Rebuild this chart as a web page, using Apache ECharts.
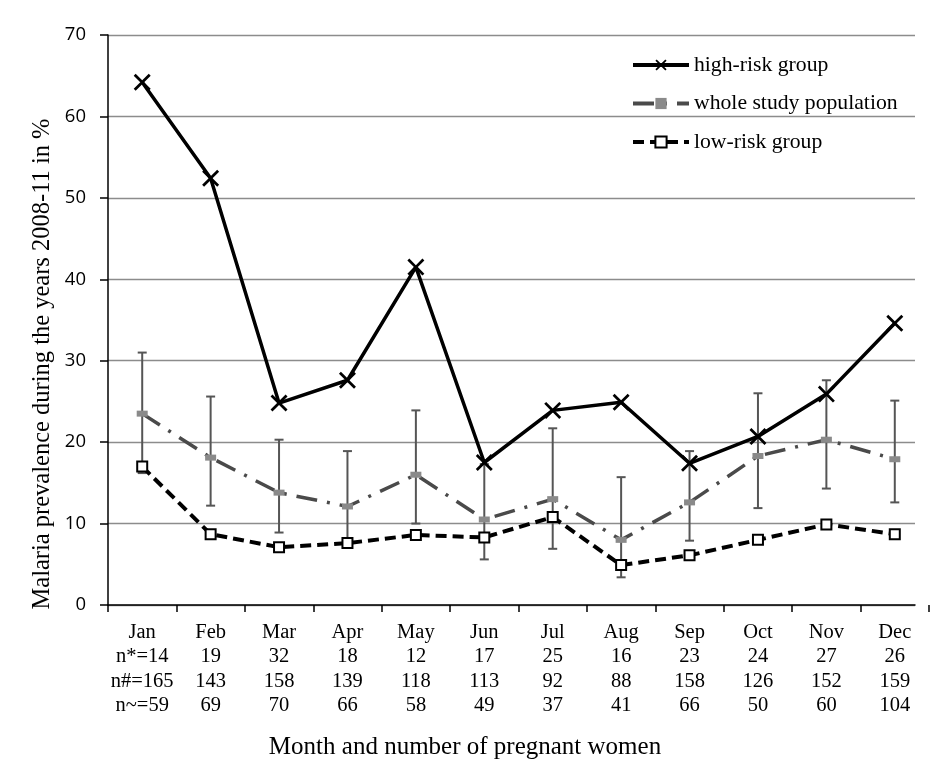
<!DOCTYPE html>
<html>
<head>
<meta charset="utf-8">
<script src="https://cdn.jsdelivr.net/npm/echarts@6/dist/echarts.min.js"></script>
<style>html,body{margin:0;padding:0;background:#fff;}#c{width:930px;height:777px;}</style>
</head>
<body>
<div id="c"></div>
<script>
var months = ['Jan','Feb','Mar','Apr','May','Jun','Jul','Aug','Sep','Oct','Nov','Dec'];
var nHigh  = [14,19,32,18,12,17,25,16,23,24,27,26];
var nWhole = [165,143,158,139,118,113,92,88,158,126,152,159];
var nLow   = [59,69,70,66,58,49,37,41,66,50,60,104];
var highRisk  = [64.2,52.4,24.8,27.6,41.5,17.5,23.9,24.9,17.4,20.7,25.9,34.6];
var whole     = [23.5,18.1,13.8,12.1,16.0,10.5,13.0,8.0,12.6,18.3,20.3,17.9];
var wholeLow  = [16.2,12.2,8.9,7.8,10.0,5.6,6.9,3.4,7.9,11.9,14.3,12.6];
var wholeHigh = [31.0,25.6,20.3,18.9,23.9,17.3,21.7,15.7,18.9,26.0,27.6,25.1];
var lowRisk   = [17.0,8.7,7.1,7.6,8.6,8.3,10.8,4.9,6.1,8.0,9.9,8.7];
var yTicks = {min:0, max:70, interval:10};

var categories = months.map(function(m,i){
  return m + '\n' + (i===0?'n*=':'') + nHigh[i] + '\n' + (i===0?'n#=':'') + nWhole[i] + '\n' + (i===0?'n~=':'') + nLow[i];
});
var errData = months.map(function(m,i){ return [i, wholeLow[i], wholeHigh[i]]; });

var serif = '"Liberation Serif","Times New Roman",serif';
var X_PATH = 'path://M0,1.6 L1.6,0 L7,5.4 L12.4,0 L14,1.6 L8.6,7 L14,12.4 L12.4,14 L7,8.6 L1.6,14 L0,12.4 L5.4,7 Z';

var chart = echarts.init(document.getElementById('c'), null, {renderer:'canvas'});
chart.setOption({
  animation:false,
  backgroundColor:'#fff',
  title:{
    text:'Month and number of pregnant women',
    left:'center', top:730,
    textStyle:{fontFamily:serif, fontSize:25, fontWeight:'normal', color:'#000'}
  },
  graphic:[{
    type:'text', x:43, y:364, rotation:Math.PI/2,
    style:{text:'Malaria prevalence during the years 2008-11 in %', font:'24.5px '+serif, fill:'#000', align:'center', verticalAlign:'middle'}
  }],
  legend:{
    orient:'vertical', left:631, top:53, padding:0,
    itemWidth:56, itemHeight:14, itemGap:14.5,
    textStyle:{fontFamily:serif, fontSize:21.7, color:'#000', lineHeight:24},
    data:[
      {name:'high-risk group', lineStyle:{width:4, color:'#000'}},
      {name:'whole study population', lineStyle:{width:4, color:'#4a4a4a'}},
      {name:'low-risk group', lineStyle:{width:4, color:'#000'}}
    ]
  },
  grid:[
    {left:108, right:1, top:35, bottom:172},
    {left:108, right:15, top:35, bottom:172}
  ],
  xAxis:[
    {type:'category', gridIndex:0, data:categories, boundaryGap:true,
     axisLine:{show:false},
     axisTick:{show:true, length:7, lineStyle:{color:'#000', width:1.5}},
     axisLabel:{interval:0, margin:15, fontFamily:serif, fontSize:20.5, color:'#000', lineHeight:24.5, align:'center'},
     splitLine:{show:false}},
    {type:'value', gridIndex:1, min:0, max:1, show:true,
     axisLine:{show:true, lineStyle:{color:'#000', width:1.5}},
     axisTick:{show:false}, axisLabel:{show:false}, splitLine:{show:false}}
  ],
  yAxis:[
    {type:'value', gridIndex:0, min:yTicks.min, max:yTicks.max, interval:yTicks.interval,
     axisLine:{show:true, lineStyle:{color:'#000', width:1.5}},
     axisTick:{show:true, length:8, lineStyle:{color:'#000', width:1.5}},
     axisLabel:{margin:22, fontFamily:'"Open Sans",sans-serif', fontSize:18.5, color:'#000'},
     splitLine:{show:false}},
    {type:'value', gridIndex:1, min:yTicks.min, max:yTicks.max, interval:yTicks.interval,
     axisLine:{show:false}, axisTick:{show:false}, axisLabel:{show:false},
     splitLine:{show:true, lineStyle:{color:'#8c8c8c', width:1.3}}}
  ],
  series:[
    {
      type:'custom', name:'err', xAxisIndex:0, yAxisIndex:0, z:1,
      data:errData, encode:{x:0, y:[1,2]},
      renderItem:function(params, api){
        var lo = api.coord([api.value(0), api.value(1)]);
        var hi = api.coord([api.value(0), api.value(2)]);
        var w = 4.5;
        var st = {stroke:'#555', lineWidth:2, fill:null};
        return {type:'group', children:[
          {type:'line', shape:{x1:lo[0], y1:lo[1], x2:hi[0], y2:hi[1]}, style:st},
          {type:'line', shape:{x1:lo[0]-w, y1:lo[1], x2:lo[0]+w, y2:lo[1]}, style:st},
          {type:'line', shape:{x1:hi[0]-w, y1:hi[1], x2:hi[0]+w, y2:hi[1]}, style:st}
        ]};
      }
    },
    {
      type:'line', name:'whole study population', xAxisIndex:0, yAxisIndex:0, z:2,
      data:whole,
      symbol:'rect', symbolSize:[11,6],
      itemStyle:{color:'#8a8a8a', borderWidth:0},
      lineStyle:{color:'#4a4a4a', width:3.5, type:[21,10,3,10], cap:'butt'}
    },
    {
      type:'line', name:'low-risk group', xAxisIndex:0, yAxisIndex:0, z:3,
      data:lowRisk,
      symbol:'rect', symbolSize:10,
      itemStyle:{color:'#fff', borderColor:'#000', borderWidth:2},
      lineStyle:{color:'#000', width:4, type:[11,6]}
    },
    {
      type:'line', name:'high-risk group', xAxisIndex:0, yAxisIndex:0, z:4,
      data:highRisk,
      symbol:X_PATH, symbolSize:17,
      itemStyle:{color:'#000'},
      lineStyle:{color:'#000', width:3.5}
    }
  ]
});
</script>
</body>
</html>
